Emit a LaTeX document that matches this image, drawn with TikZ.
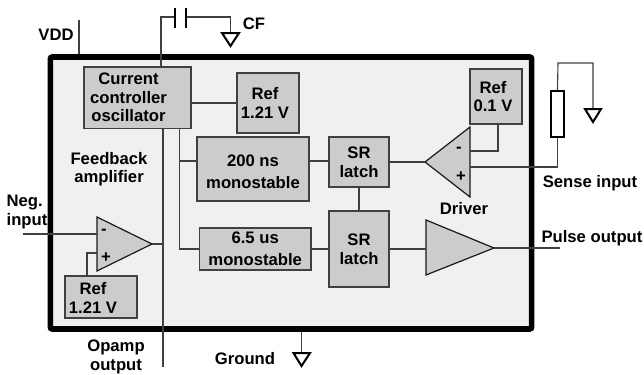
\documentclass[tikz,border=0pt]{standalone}
\usepackage{fontspec}
\setmainfont{Liberation Sans}
\tikzstyle{wire} = [draw,line width=0.85pt,color=black!75]
\tikzstyle{block} = [draw=black!75,line width=1pt,fill=black!20,inner sep=0pt,align=center,font=\bfseries\fontsize{12.5}{13.9}\selectfont]
\tikzstyle{txt} = [inner sep=0pt,align=center,font=\bfseries\fontsize{12.5}{13.9}\selectfont]
\tikzstyle{amp} = [draw=black!90,line width=0.9pt,fill=black!20]
\tikzstyle{gnd} = [draw=black,line width=1.5pt,fill=white,line join=miter]
\begin{document}
\begin{tikzpicture}[x=0.75pt,y=-0.75pt]
    \useasboundingbox (0,0) rectangle (644,375);

    % chip outline
    \node[draw=black,line width=4.2pt,fill=black!6,rounded corners=1.5pt,minimum width=361pt,minimum height=204pt,inner sep=0pt] (chip) at (291,193) {};

    % free wire ends
    \coordinate (vddtop) at (79,20);
    \coordinate (cfa) at (161,17);
    \coordinate (cfb) at (174.5,17);
    \coordinate (cfc) at (186,17);
    \coordinate (cfgnd) at (230.5,33);
    \coordinate (opout) at (163,367);
    \coordinate (mono) at (179.5,161);
    \coordinate (neg) at (23,234);
    \coordinate (pulse) at (560,248);
    \coordinate (rstop) at (558,63);
    \coordinate (rsgnd) at (593,109);
    \coordinate (chipgnd) at (301.5,353);

    % wires sit under the blocks
    \node[block,minimum width=80.2pt,minimum height=46pt] (osc) at (137.5,97.5) {};
    \node[block,minimum width=46.5pt,minimum height=45pt] (refa) at (268,103) {};
    \node[block,minimum width=84pt,minimum height=48pt] (ns) at (253,169) {};
    \node[block,minimum width=83.6pt,minimum height=31.5pt] (us) at (255.2,249) {6.5 us\\[2.6pt]monostable};
    \node[block,minimum width=45pt,minimum height=37.5pt] (sra) at (359,162) {SR\\latch};
    \node[block,minimum width=45pt,minimum height=57pt] (srb) at (359,249) {SR\\latch};
    \node[block,minimum width=39pt,minimum height=41.2pt] (refc) at (496,96.5) {};
    \node[block,minimum width=54pt,minimum height=31.5pt] (refb) at (101,297) {};

    % triangles
    \coordinate (fbtip) at (152,244);
    \coordinate (drvtip) at (425,162);
    \coordinate (buftip) at (494,248);
    \draw[amp] (97,217) -- (fbtip) -- (97,271) -- cycle;
    \draw[amp] (470,127) -- (470,197) -- (drvtip) -- cycle;
    \draw[amp] (426,220) -- (buftip) -- (426,275) -- cycle;

    % connectors
    \draw[wire] (chip.north -| vddtop) -- (vddtop);
    \draw[wire] (osc.north -| cfa) -- (cfa) -- (cfb);
    \draw[wire] (cfc) -- (cfgnd |- cfc) -- (cfgnd);
    \draw[wire] (osc.east |- refa.west) -- (refa.west);
    \draw[wire] (osc.south -| opout) -- (opout);
    \draw[wire] (fbtip) -- (fbtip -| opout);
    \draw[wire] (osc.south -| mono) -- (mono |- us.west) -- (us.west);
    \draw[wire] (mono) -- (ns.west |- mono);
    \draw[wire] (ns.east |- mono) -- (sra.west |- mono);
    \draw[wire] (sra.east) -- (drvtip);
    \draw[wire] (sra.south) -- (srb.north);
    \draw[wire] (us.east) -- (srb.west);
    \draw[wire] (srb.east) -- (426,249);
    \draw[wire] (buftip) -- (pulse);
    \draw[wire] (neg) -- (97,234);
    \draw[wire] (refb.north -| 87,0) -- (87,253) -- (97,253);
    \draw[wire] (refc.south -| 498,0) -- (498,151) -- (470,151);
    \draw[wire] (chip.south -| chipgnd) -- (chipgnd);

    % sense resistor and its wires
    \node[draw=black,line width=1.5pt,fill=white,minimum width=9.5pt,minimum height=34.5pt,inner sep=0pt] (rs) at (557.5,114) {};
    \draw[wire] (470,167) -- (rs.south |- 470,167) -- (rs.south);
    \draw[wire] (rs.north) -- (rstop) -- (rsgnd |- rstop) -- (rsgnd);

    % capacitor plates
    \draw[line width=1.5pt] (174.5,7.5) -- (cfb) -- (174.5,28);
    \draw[line width=1.5pt] (186,7.5) -- (cfc) -- (186,28);

    % ground symbols
    \draw[gnd] (222,33) -- (239,33) -- (230.5,46) -- cycle;
    \draw[gnd] (585,109) -- (601,109) -- (593,122) -- cycle;
    \draw[gnd] (293.5,353) -- (310,353) -- (301.5,366) -- cycle;

    % block and signal labels
    \node[txt] (osctxt) at (128.5,97.5) {Current\\controller\\oscillator};
    \node[txt] (refatxt) at (265,103) {Ref\\1.21 V};
    \node[txt] (nstxt) at (253,172) {200 ns\\[2.6pt]monostable};
    \node[txt] (refctxt) at (493,96.5) {Ref\\0.1 V};
    \node[txt] (refbtxt) at (93,298) {Ref\\1.21 V};
    \node[txt] (fbtxt) at (109,169) {Feedback\\amplifier};
    \node[txt] (drv) at (464,209) {Driver};
    \node[txt] (fbminus) at (104,232) {-};
    \node[txt] (fbplus) at (106,258) {+};
    \node[txt] (drvminus) at (459,150) {-};
    \node[txt] (drvplus) at (461,177) {+};
    \node[txt] (vdd) at (56,35) {VDD};
    \node[txt] (cf) at (254,24) {CF};
    \node[txt,align=left] (negin) at (27,212) {Neg.\\input};
    \node[txt] (opamp) at (116,357) {Opamp\\output};
    \node[txt] (ground) at (245,359) {Ground};
    \node[txt] (sense) at (590,183) {Sense input};
    \node[txt] (pulsetxt) at (592,238) {Pulse output};
\end{tikzpicture}
\end{document}
